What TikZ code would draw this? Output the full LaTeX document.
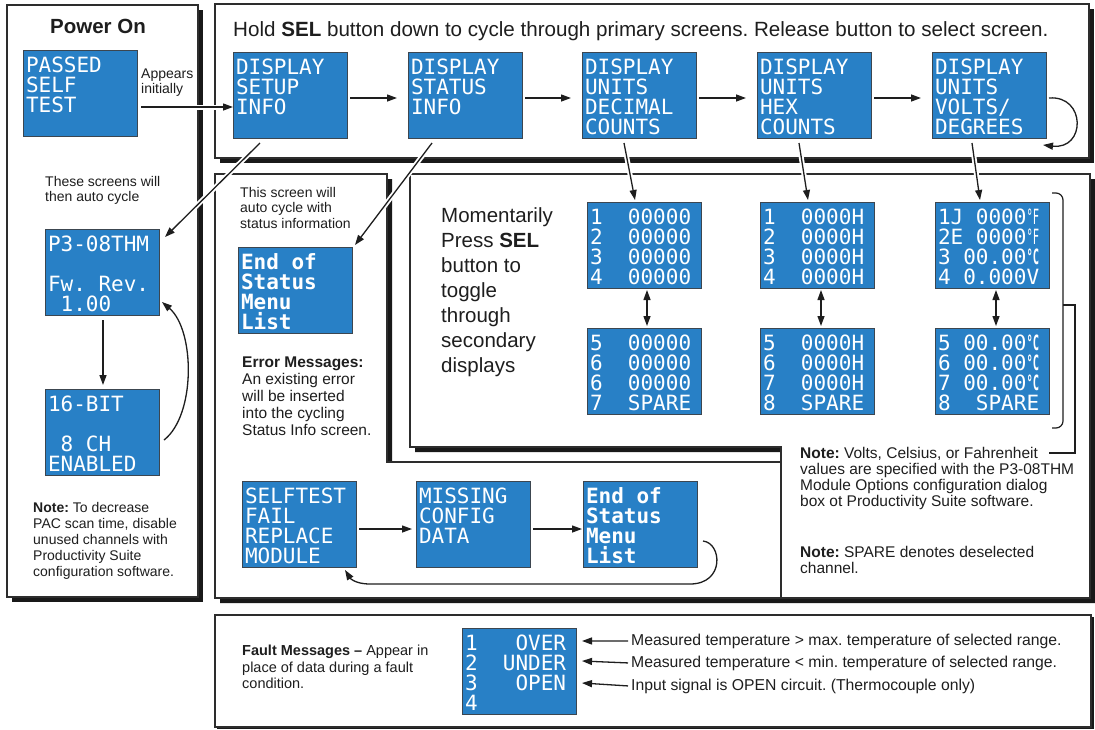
\documentclass[tikz,border=0pt]{standalone}
\usepackage{fontspec}
\setmainfont{Liberation Sans}
\newfontfamily\lcdfam{DejaVu Sans Mono}
\usepackage{graphicx}
\usetikzlibrary{arrows.meta,calc}
\definecolor{lcdblue}{RGB}{40,128,198}
\definecolor{lcdedge}{RGB}{60,70,80}
\definecolor{framegray}{RGB}{45,45,45}
\definecolor{shadowcol}{RGB}{25,25,25}
\definecolor{ink}{RGB}{30,30,30}
\newcommand\lcdfont{\lcdfam\fontsize{21}{20}\selectfont}
\newcommand\lcd[1]{\parbox[c][80pt][t]{108pt}{\lcdfont\rule{0pt}{19pt}#1}}
\newcommand\dF{\scalebox{0.5}[1]{°F}}
\newcommand\dC{\scalebox{0.5}[1]{\bfseries °C}}
\newcommand\lsp{\phantom{0}}
\frenchspacing
\tikzset{
  lcd/.style={fill=lcdblue, draw=lcdedge, line width=0.9pt, anchor=north west, inner sep=3pt, outer sep=0pt, text=white},
  frame/.style={fill=white, draw=framegray, line width=1.2pt},
  dropshadow/.style={fill=shadowcol, draw=none},
  lbl/.style={anchor=north west, inner sep=0pt, align=left, text=ink},
  arr/.style={line width=1.3pt, draw=ink, -{Triangle[length=10pt,width=7pt]}},
  darr/.style={line width=1.3pt, draw=ink, {Triangle[length=10pt,width=7pt]}-{Triangle[length=10pt,width=7pt]}},
  halo/.style={preaction={draw=white,line width=5pt,-}}
}
\begin{document}
\begin{tikzpicture}[x=1pt,y=-1pt]
\useasboundingbox (0,0) rectangle (1095,729);
% ---------- frames ----------
\path[dropshadow] (12,10) rectangle (203,602);
\draw[frame] (7,5) rectangle (198,597);
\path[dropshadow] (220,9) rectangle (1094,163);
\draw[frame] (215,4) rectangle (1089,158);
\path[dropshadow] (220,179) -- (392,179) -- (392,467) -- (786,467) -- (786,603) -- (220,603) -- cycle;
\draw[frame] (215,174) -- (387,174) -- (387,462) -- (781,462) -- (781,598) -- (215,598) -- cycle;
\path[dropshadow] (415,179) -- (1095,179) -- (1095,603) -- (786,603) -- (786,452) -- (415,452) -- cycle;
\draw[frame] (410,174) -- (1090,174) -- (1090,598) -- (781,598) -- (781,447) -- (410,447) -- cycle;
\path[dropshadow] (217,617) rectangle (1094,729);
\draw[frame] (215,615) rectangle (1091,727);

% ---------- LCD screens ----------
\node[lcd] (pst) at (23,50) {\lcd{PASSED\\SELF\\TEST}};
\node[lcd] (setup) at (233,52) {\lcd{DISPLAY\\SETUP\\INFO}};
\node[lcd] (status) at (408,52) {\lcd{DISPLAY\\STATUS\\INFO}};
\node[lcd] (dec) at (582,52) {\lcd{DISPLAY\\UNITS\\DECIMAL\\COUNTS}};
\node[lcd] (hex) at (757,52) {\lcd{DISPLAY\\UNITS\\HEX\\COUNTS}};
\node[lcd] (volts) at (932,52) {\lcd{DISPLAY\\UNITS\\VOLTS/\\DEGREES}};
\node[lcd] (p3) at (45,229) {\lcd{P3-08THM\\\mbox{}\\Fw.~Rev.\\\lsp1.00}};
\node[lcd] (b16) at (45,389) {\lcd{16-BIT\\\mbox{}\\\lsp8~CH\\ENABLED}};
\node[lcd] (end1) at (238,247) {\lcd{\bfseries End~of\\Status\\Menu\\List}};
\node[lcd] (d1) at (587,202) {\lcd{1~~00000\\2~~00000\\3~~00000\\4~~00000}};
\node[lcd] (d2) at (587,328) {\lcd{5~~00000\\6~~00000\\6~~00000\\7~~SPARE}};
\node[lcd] (h1) at (760,202) {\lcd{1~~0000H\\2~~0000H\\3~~0000H\\4~~0000H}};
\node[lcd] (h2) at (760,328) {\lcd{5~~0000H\\6~~0000H\\7~~0000H\\8~~SPARE}};
\node[lcd] (v1) at (935,202) {\lcd{1J~0000\dF\\2E~0000\dF\\3~00.00\dC\\4~0.000V}};
\node[lcd] (v2) at (935,328) {\lcd{5~00.00\dC\\6~00.00\dC\\7~00.00\dC\\8~~SPARE}};
\node[lcd] (st) at (242,481) {\lcd{SELFTEST\\FAIL\\REPLACE\\MODULE}};
\node[lcd] (miss) at (416,481) {\lcd{MISSING\\CONFIG\\DATA}};
\node[lcd] (end2) at (583,481) {\lcd{\bfseries End~of\\Status\\Menu\\List}};
\node[lcd] (fault) at (462,628) {\lcd{1~~~OVER\\2~~UNDER\\3~~~OPEN\\4}};

% ---------- arrows ----------
\draw[arr,halo] ([shift={(4pt,-14pt)}]pst.east) -- ([yshift=-12pt]setup.west);
\draw[arr] ([shift={(3pt,-3pt)}]setup.east) -- ([shift={(-11pt,-3pt)}]status.west);
\draw[arr] ([shift={(3pt,-3pt)}]status.east) -- ([shift={(-11pt,-3pt)}]dec.west);
\draw[arr] ([shift={(3pt,-3pt)}]dec.east) -- ([shift={(-11pt,-3pt)}]hex.west);
\draw[arr] ([shift={(3pt,-3pt)}]hex.east) -- ([shift={(-11pt,-3pt)}]volts.west);
\draw[arr] ([shift={(3pt,-3pt)}]volts.east) .. controls +(37,-3) and +(43,5) .. ([shift={(-3pt,-7pt)}]volts.south east);

\draw[arr,halo] ([shift={(-30pt,-5pt)}]setup.south) -- ([shift={(6pt,-8pt)}]p3.north east);
\draw[arr,halo] ([shift={(-33pt,-5pt)}]status.south) -- ([shift={(3pt,2pt)}]end1.north east);
\draw[arr,halo] ([shift={(-15pt,-5pt)}]dec.south) -- ([shift={(-9pt,2pt)}]d1.north);
\draw[arr,halo] ([shift={(-15pt,-5pt)}]hex.south) -- ([shift={(-9pt,2pt)}]h1.north);
\draw[arr,halo] ([shift={(-17pt,-5pt)}]volts.south) -- ([shift={(-12pt,2pt)}]v1.north);

\draw[darr] ([shift={(3pt,-2pt)}]d1.south) -- ([shift={(3pt,2pt)}]d2.north);
\draw[darr] ([shift={(4pt,-2pt)}]h1.south) -- ([shift={(4pt,2pt)}]h2.north);
\draw[darr] ([shift={(4pt,-2pt)}]v1.south) -- ([shift={(4pt,2pt)}]v2.north);

\draw[arr] ([shift={(1pt,-5pt)}]p3.south) -- ([shift={(1pt,4pt)}]b16.north);
\draw[arr] ([shift={(5pt,-8pt)}]b16.east) .. controls +(32,-25) and +(33,28) .. ([shift={(3pt,13pt)}]p3.south east);

\draw[arr] ([shift={(3pt,-5pt)}]st.east) -- ([shift={(-4pt,-5pt)}]miss.west);
\draw[arr] ([shift={(3pt,-5pt)}]miss.east) -- ([shift={(-1pt,-5pt)}]end2.west);
\draw[arr] ([shift={(6pt,-17pt)}]end2.east) .. controls +(19,2) and +(35,0) .. ++(-13,43) -- ++(-320,0) .. controls +(-15,0) and +(5,8) .. ([shift={(-11pt,-3pt)}]st.south east);

% ---------- fault texts and arrows ----------
\node[lbl, anchor=base west, font=\fontsize{15.75}{18}\selectfont] (f1) at (631,645) {Measured temperature > max. temperature of selected range.};
\node[lbl, anchor=base west, font=\fontsize{15.75}{18}\selectfont] (f2) at (631,667) {Measured temperature < min. temperature of selected range.};
\node[lbl, anchor=base west, font=\fontsize{15.75}{18}\selectfont] (f3) at (631,690) {Input signal is OPEN circuit. (Thermocouple only)};
\draw[arr] ([xshift=-3pt]f1.west) -- ([shift={(6pt,30pt)}]fault.east);
\draw[arr] ([xshift=-3pt]f2.west) -- ([shift={(6pt,10pt)}]fault.east);
\draw[arr] ([xshift=-3pt]f3.west) -- ([shift={(6pt,-12pt)}]fault.east);

% ---------- bracket and note connector ----------
\draw[line width=1.2pt, draw=ink, rounded corners=7pt] (1052,193) -- (1063,193) -- (1063,428) -- (1052,428);
\coordinate (brk) at (1063,305);
\coordinate (notetip) at (1049,453);
\draw[line width=1.2pt, draw=ink] (brk) -- ++(12,0) |- (notetip);

% ---------- labels ----------
\node[lbl, anchor=base, font=\bfseries\fontsize{20.5}{22}\selectfont] (pwr) at (98,33) {Power On};
\node[lbl, anchor=base west, font=\fontsize{20.6}{22}\selectfont] (hdr) at (233,36) {Hold \textbf{SEL} button down to cycle through primary screens. Release button to select screen.};
\node[lbl, font=\fontsize{14}{15}\selectfont] (appears) at (141,69) {Appears\\initially};
\node[lbl, font=\fontsize{14}{15.5}\selectfont] (these) at (45,176) {These screens will\\then auto cycle};
\node[lbl, font=\fontsize{14}{16}\selectfont] (note1) at (33,502) {\textbf{Note:} To decrease\\PAC scan time, disable\\unused channels with\\Productivity Suite\\configuration software.};
\node[lbl, font=\fontsize{14}{15.5}\selectfont] (thisscr) at (240,187) {This screen will\\auto cycle with\\status information};
\node[lbl, font=\fontsize{15.5}{17}\selectfont] (errmsg) at (242,357) {\textbf{Error Messages:}\\An existing error\\will be inserted\\into the cycling\\Status Info screen.};
\node[lbl, font=\fontsize{20.5}{25}\selectfont] (moment) at (441,207) {Momentarily\\Press \textbf{SEL}\\button to\\toggle\\through\\secondary\\displays};
\node[lbl, font=\fontsize{15.5}{16}\selectfont] (note2) at (800,447) {\textbf{Note:} Volts, Celsius, or Fahrenheit\\values are specified with the P3-08THM\\Module Options configuration dialog\\box ot Productivity Suite software.};
\node[lbl, font=\fontsize{15.5}{16}\selectfont] (note3) at (800,546) {\textbf{Note:} SPARE denotes deselected\\channel.};
\node[lbl, font=\fontsize{14.5}{16.5}\selectfont] (faultmsg) at (242,645) {\textbf{Fault Messages --} Appear in\\place of data during a fault\\condition.};
\end{tikzpicture}
\end{document}
